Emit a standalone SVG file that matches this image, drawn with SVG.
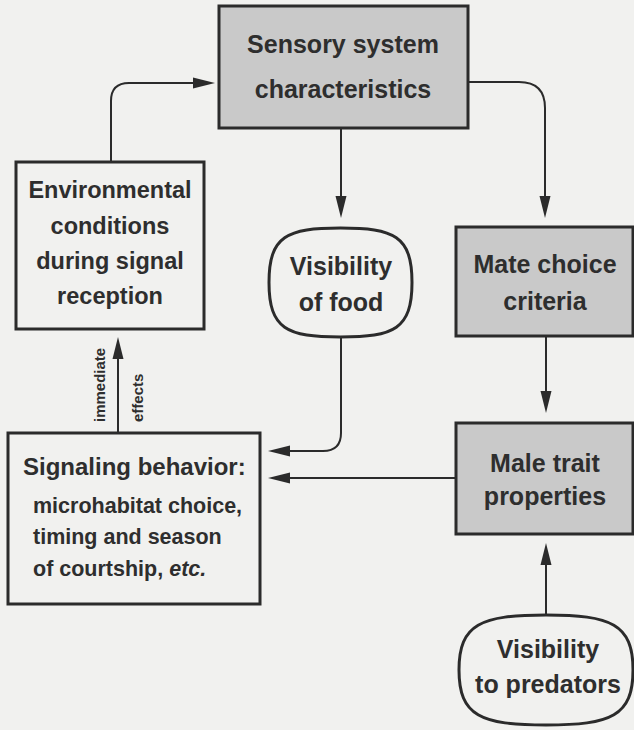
<svg xmlns="http://www.w3.org/2000/svg" width="634" height="730" viewBox="0 0 634 730">
<style>
.box{stroke:#2b2b2b;stroke-width:3;fill:none}
.gray{fill:#c9c9c9}
.lbl{font-family:"Liberation Sans",Arial,Helvetica,sans-serif;font-weight:bold;fill:#2e2e2e;text-anchor:middle}
.big{font-size:25px}
.env{font-size:23.5px}
.sig{font-size:24px;text-anchor:start}
.sub{font-size:21.5px;text-anchor:start}
.small{font-size:15px;text-anchor:start}
.con{stroke:#2b2b2b;stroke-width:2;fill:none;marker-end:url(#ah)}
</style>
<defs>
<marker id="ah" markerUnits="userSpaceOnUse" viewBox="0 0 22 12" markerWidth="22" markerHeight="12" refX="18" refY="6" orient="auto">
<path d="M0,0.5 L22,6 L0,11.5 Z" fill="#2b2b2b"/>
</marker>
</defs>
<rect x="0" y="0" width="634" height="730" fill="#f1f1ef"/>

<g id="connectors">
<path class="con" d="M111,162 V101 Q111,83 129,83 H211"/>
<path class="con" d="M468,82 H519 Q545,82 545,108 V214"/>
<path class="con" d="M341,128 V214"/>
<path class="con" d="M341,337 V433 Q341,451 323,451 H272"/>
<path class="con" d="M546,336 V409"/>
<path class="con" d="M456,478 H272"/>
<path class="con" d="M546,615 V547"/>
<path class="con" d="M118,433 V341"/>
<text class="lbl small" transform="translate(105,422) rotate(-90)">immediate</text>
<text class="lbl small" transform="translate(143,422) rotate(-90)">effects</text>
</g>

<g id="sensory">
<rect class="box gray" x="219" y="6" width="249" height="122"/>
<text class="lbl big" x="343" y="53">Sensory system</text>
<text class="lbl big" x="343" y="98">characteristics</text>
</g>

<g id="environmental">
<rect class="box" x="16" y="162" width="188" height="167"/>
<text class="lbl env" x="110" y="198">Environmental</text>
<text class="lbl env" x="110" y="234">conditions</text>
<text class="lbl env" x="110" y="269">during signal</text>
<text class="lbl env" x="110" y="304">reception</text>
</g>

<g id="food">
<path class="box" d="M340.5,228 C394,228 412,236 412,282.5 C412,329 394,337 340.5,337 C287,337 269,329 269,282.5 C269,236 287,228 340.5,228 Z"/>
<text class="lbl big" x="341" y="275">Visibility</text>
<text class="lbl big" x="341" y="311">of food</text>
</g>

<g id="mate">
<rect class="box gray" x="456" y="227" width="177" height="109"/>
<text class="lbl big" x="545" y="273">Mate choice</text>
<text class="lbl big" x="545" y="310">criteria</text>
</g>

<g id="male">
<rect class="box gray" x="456" y="423" width="177" height="111"/>
<text class="lbl big" x="545" y="472">Male trait</text>
<text class="lbl big" x="545" y="505">properties</text>
</g>

<g id="signaling">
<rect class="box" x="8" y="433" width="252" height="171"/>
<text class="lbl sig" x="23" y="475">Signaling behavior:</text>
<text class="lbl sub" x="33" y="513">microhabitat choice,</text>
<text class="lbl sub" x="33" y="544">timing and season</text>
<text class="lbl sub" x="33" y="576">of courtship, <tspan font-style="italic">etc.</tspan></text>
</g>

<g id="predators">
<path class="box" d="M546,615 C611,615 633,624 633,670 C633,716 611,725 546,725 C481,725 459,716 459,670 C459,624 481,615 546,615 Z"/>
<text class="lbl big" x="548" y="658">Visibility</text>
<text class="lbl big" x="548" y="693">to predators</text>
</g>
</svg>
